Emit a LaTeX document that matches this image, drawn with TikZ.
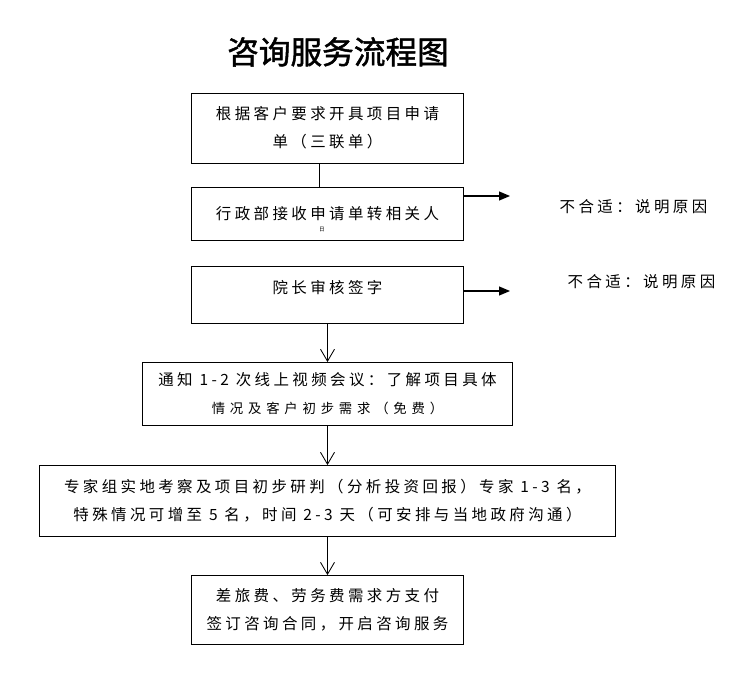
\documentclass[tikz,border=0pt]{standalone}
\usepackage{fontspec}
\setmainfont{Noto Sans CJK SC}
\newfontfamily\cjk[LetterSpace=22]{Noto Sans CJK SC}
\newfontfamily\cjkwide[LetterSpace=36]{Noto Sans CJK SC}
\newfontfamily\titlefont[FakeBold=1.5]{Noto Sans CJK SC}
\usetikzlibrary{arrows.meta, positioning}

\begin{document}
\begin{tikzpicture}[
      x=0.025cm, y=-0.025cm,
      box/.style={rectangle, draw, line width=0.7pt, inner sep=0pt, outer sep=0pt, minimum width=6.775cm, align=center, font=\cjk\fontsize{11}{20}\selectfont},
      note/.style={inner sep=0pt, font=\cjk\fontsize{11}{20}\selectfont},
      flow/.style={line width=0.6pt, -{Straight Barb[length=0.3cm, width=0.35cm]}},
      reject/.style={line width=0.9pt, -{Triangle[length=0.27cm, width=0.22cm]}}
    ]
    \useasboundingbox (0,0) rectangle (746,691);

    % 标题
    \node (title) at (338,52) {\titlefont\fontsize{22.5}{24}\selectfont 咨询服务流程图};

    % 流程框
    \node (apply) [box, minimum height=1.75cm] at (327.5,128) {根据客户要求开具项目申请\\单（三联单）};
    \node (admin) [box, minimum height=1.325cm, below=0.6cm of apply] {行政部接收申请单转相关人};
    \node (sign) [box, minimum height=1.425cm, text depth=0.38cm, below=0.65cm of admin] {院长审核签字};
    \node (meeting) [box, minimum width=9.25cm, minimum height=1.575cm, below=0.975cm of sign] {通知 1-2 次线上视频会议：了解项目具体\\{\cjkwide\fontsize{9.5}{20}\selectfont 情况及客户初步需求（免费）}};
    \node (survey) [box, minimum width=14.375cm, minimum height=1.775cm, below=1cm of meeting] {专家组实地考察及项目初步研判（分析投资回报）专家 1-3 名，\\特殊情况可增至 5 名，时间 2-3 天（可安排与当地政府沟通）};
    \node (contract) [box, minimum height=1.725cm, below=0.975cm of survey] {差旅费、劳务费需求方支付\\签订咨询合同，开启咨询服务};
    \node (stray) [inner sep=0pt, font=\fontsize{4}{4}\selectfont] at (322,230) {日};

    % 不合适
    \coordinate (end1) at (510,196);
    \coordinate (end2) at (510,291);
    \node (reason1) [note] at (633.5,207) {不合适：说明原因};
    \node (reason2) [note] at (641.5,282) {不合适：说明原因};

    % 连线
    \draw [line width=0.7pt] ([xshift=-5.5]apply.south) -- ([xshift=-5.5]apply.south |- admin.north);
    \draw [flow] (sign.south) -- (sign.south |- meeting.north);
    \draw [flow] (meeting) -- (survey);
    \draw [flow] (survey) -- (contract);
    \draw [reject] (admin.east |- end1) -- (end1);
    \draw [reject] (sign.east |- end2) -- (end2);

  \end{tikzpicture}
\end{document}
